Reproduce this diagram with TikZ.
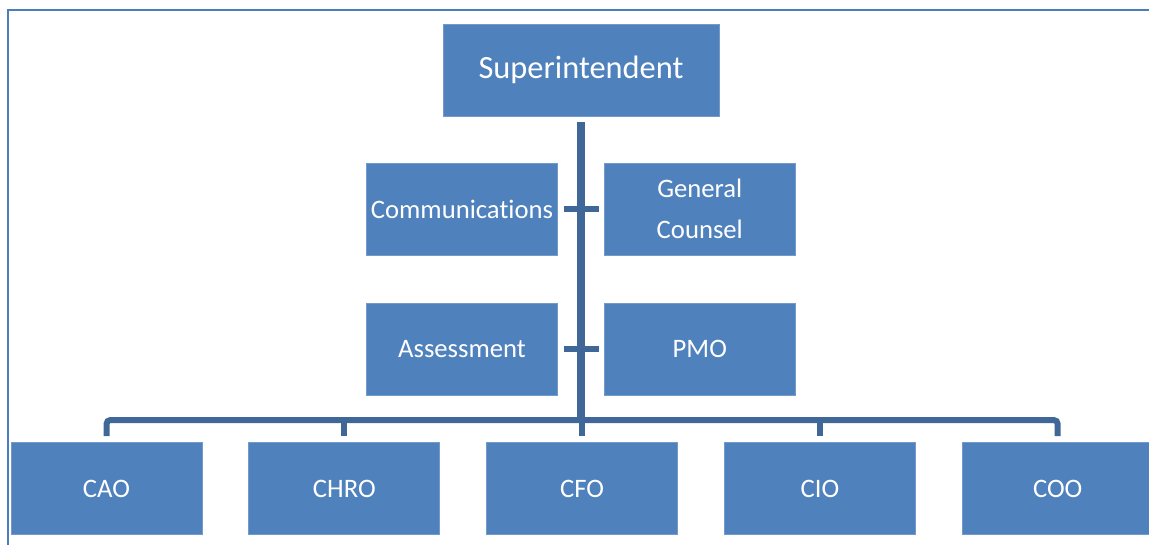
\documentclass[tikz,border=0pt]{standalone}
\usepackage{fontspec}
\setmainfont{Carlito}[Ligatures=CommonOff]
\usetikzlibrary{positioning}
\definecolor{boxblue}{RGB}{79,129,189}
\definecolor{linkblue}{RGB}{63,103,151}
\definecolor{frameblue}{RGB}{74,126,187}
\tikzset{
    head/.style =   {rectangle,
                    fill=boxblue,
                    draw=boxblue!80!white,
                    line width=0.5pt,
                    text=white,
                    font=\fontsize{24.3}{28}\selectfont,
                    minimum width=207pt,
                    minimum height=69pt},
    staff/.style =  {rectangle,
                    fill=boxblue,
                    draw=boxblue!80!white,
                    line width=0.5pt,
                    text=white,
                    align=center,
                    font=\fontsize{20}{31}\selectfont,
                    inner sep=2pt,
                    minimum width=143.25pt,
                    minimum height=69pt},
    chief/.style =  {staff},
    link/.style =   {draw=linkblue,
                    line width=4.5pt},
    frame/.style =  {draw=frameblue,
                    line width=1.5pt},
    node distance=34.6pt}

\begin{document}
\begin{tikzpicture}[x=0.75pt,y=-0.75pt]
                \useasboundingbox (0,0) rectangle (1149,545);
                \draw[frame] (1149,10) -- (7.5,10) -- (7.5,545);

                \node[head]     (sup)                       at (581,70)     {Superintendent};
                \node[staff]    (comm)                      at (462,209)    {Communications};
                \node[staff]    (counsel)   [right=of comm]                 {General\\Counsel};
                \node[staff]    (assess)                    at (462,349)    {Assessment};
                \node[staff]    (pmo)       [right=of assess]               {PMO};

                \node[chief]    (cao)                       at (106.5,488.5) {CAO};
                \node[chief]    (chro)      [right=of cao]                  {CHRO};
                \node[chief]    (cfo)       [right=of chro]                 {CFO};
                \node[chief]    (cio)       [right=of cfo]                  {CIO};
                \node[chief]    (coo)       [right=of cio]                  {COO};

                \coordinate (bus) at (581,420);

                % trunk and staff stubs
                \draw[link, line width=6pt] ([yshift=-4.5pt]sup.south) -- ([yshift=-2pt]bus);
                \draw[link, shorten <=4.5pt, shorten >=4pt] (comm.east) -- (counsel.west);
                \draw[link, shorten <=4.5pt, shorten >=4pt] (assess.east) -- (pmo.west);

                % bus to the chiefs
                \draw[link, rounded corners=3pt] ([yshift=4.5pt]cao.north) |- (bus) -| ([yshift=4.5pt]coo.north);
                \foreach \c in {chro,cfo,cio}
                    \draw[link] ([yshift=4.5pt]\c.north) -- (\c.north |- bus);
\end{tikzpicture}
\end{document}
